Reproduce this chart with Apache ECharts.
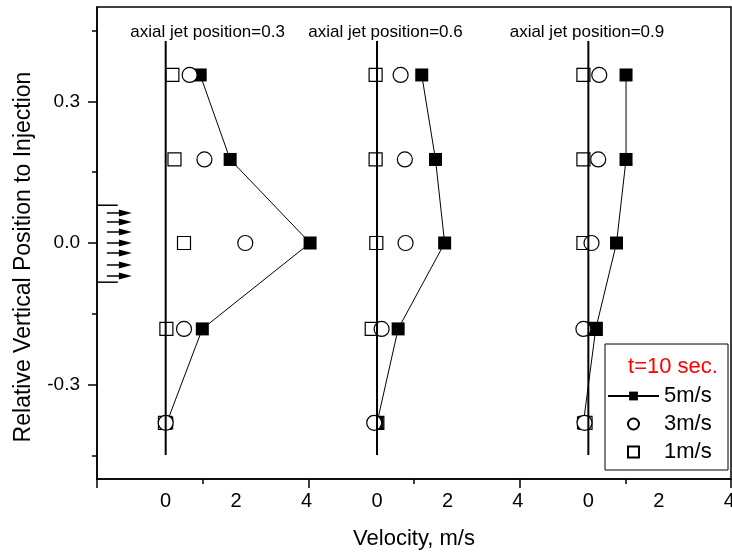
<!DOCTYPE html>
<html><head><meta charset="utf-8">
<script src="https://cdn.jsdelivr.net/npm/echarts@6/dist/echarts.min.js"></script>
<style>html,body{margin:0;padding:0;background:#fff}#c{width:732px;height:555px}</style>
</head><body><div id="c"></div>
<script>
// ---- data ----
const rowY = [0.356, 0.177, 0, -0.182, -0.381];          // relative vertical position of measurements
const panelNames = ['axial jet position=0.3', 'axial jet position=0.6', 'axial jet position=0.9'];
const panelBase = [1.95, 7.95, 13.95];                    // x offset of each panel's zero velocity
const titleOffset = [1.19, 0.24, -0.04];
const titleY = 0.446;
const v5 = [[0.98, 1.83, 4.10, 1.04, 0.03], [1.27, 1.66, 1.92, 0.60, 0.00], [1.07, 1.07, 0.80, 0.21, -0.14]];
const v3 = [[0.68, 1.10, 2.26, 0.52, 0.00], [0.67, 0.79, 0.81, 0.13, -0.08], [0.31, 0.28, 0.09, -0.14, -0.11]];
const v1 = [[0.19, 0.25, 0.52, 0.02, -0.02], [-0.04, -0.04, -0.02, -0.15, 0.01], [-0.14, -0.14, -0.14, 0.21, -0.08]];
const xTickLabels = [0, 2, 4];
const yTickLabels = [-0.3, 0, 0.3];
const yMinorTicks = [-0.45, -0.15, 0.15, 0.45];
const zeroLineY = [0.428, -0.449];
const arrowY = [0.0636, 0.0445, 0.0233, 0, -0.0212, -0.0466, -0.0699];
const arrowX = [0.28, 0.99];
const bracketY = [0.08, -0.083];
const bracketX = [0, 0.59];

const FONT = "'Liberation Sans', Arial, Helvetica, sans-serif";
const pts = (vals, p) => vals[p].map((v, i) => [panelBase[p] + v, rowY[i]]);
const labelVals = [], labelMap = {};
panelBase.forEach(b => xTickLabels.forEach(t => { const v = b + t; labelVals.push(v); labelMap[v.toFixed(3)] = String(t); }));

const series = [];
// 1 m/s open squares
series.push({ type: 'scatter', name: '1m/s', symbol: 'rect', symbolSize: 13, z: 2,
  itemStyle: { color: '#fff', borderColor: '#000', borderWidth: 1.2, opacity: 1 },
  data: [0, 1, 2].flatMap(p => pts(v1, p)) });
// 5 m/s filled squares with lines
[0, 1, 2].forEach(p => series.push({ type: 'line', name: '5m/s', symbol: 'rect', symbolSize: 13, z: 3,
  itemStyle: { color: '#000' }, lineStyle: { color: '#000', width: 1 }, data: pts(v5, p) }));
// 3 m/s open circles
series.push({ type: 'scatter', name: '3m/s', symbol: 'circle', symbolSize: 15, z: 4,
  itemStyle: { color: '#fff', borderColor: '#000', borderWidth: 1.2, opacity: 1 },
  data: [0, 1, 2].flatMap(p => pts(v3, p)) });
// zero velocity reference lines
panelBase.forEach(b => series.push({ type: 'line', symbol: 'none', z: 5, silent: true,
  lineStyle: { color: '#000', width: 2 }, data: [[b, zeroLineY[0]], [b, zeroLineY[1]]] }));
// panel titles
series.push({ type: 'custom', silent: true, z: 6,
  data: panelBase.map((b, i) => [b + titleOffset[i], titleY]),
  renderItem: (params, api) => {
    const p = api.coord([api.value(0), api.value(1)]);
    return { type: 'text', x: p[0], y: p[1], style: { text: panelNames[params.dataIndex], fontSize: 17,
      fontFamily: FONT, fill: '#000', align: 'center', verticalAlign: 'middle' } };
  } });
// injection arrows
series.push({ type: 'custom', silent: true, z: 6, encode: { x: [0, 2], y: 1 },
  data: arrowY.map(y => [arrowX[0], y, arrowX[1]]),
  renderItem: (params, api) => {
    const p1 = api.coord([api.value(0), api.value(1)]);
    const p2 = api.coord([api.value(2), api.value(1)]);
    const head = 13, hw = 3.5;
    return { type: 'group', children: [
      { type: 'line', shape: { x1: p1[0], y1: p1[1], x2: p2[0] - head + 1, y2: p2[1] }, style: { stroke: '#000', lineWidth: 1.5 } },
      { type: 'polygon', shape: { points: [[p2[0], p2[1]], [p2[0] - head, p2[1] - hw], [p2[0] - head, p2[1] + hw]] }, style: { fill: '#000' } }
    ] };
  } });
series.push({ type: 'custom', silent: true, z: 6, encode: { x: [0, 2], y: 1 },
  data: bracketY.map(y => [bracketX[0], y, bracketX[1]]),
  renderItem: (params, api) => {
    const p1 = api.coord([api.value(0), api.value(1)]);
    const p2 = api.coord([api.value(2), api.value(1)]);
    return { type: 'line', shape: { x1: p1[0], y1: p1[1], x2: p2[0], y2: p2[1] }, style: { stroke: '#000', lineWidth: 1.5 } };
  } });

const chart = echarts.init(document.getElementById('c'), null, { renderer: 'canvas' });
chart.setOption({
  animation: false,
  backgroundColor: '#fff',
  textStyle: { fontFamily: FONT, color: '#000' },
  grid: { left: 97, right: 1, top: 7, bottom: 76, show: true, borderColor: '#000', borderWidth: 1.5,
    containLabel: false, outerBoundsMode: 'none' },
  xAxis: [
    { type: 'value', min: 0, max: 18, interval: 6, position: 'bottom',
      name: 'Velocity, m/s', nameLocation: 'middle', nameGap: 49,
      nameTextStyle: { fontSize: 22, color: '#000', fontFamily: FONT },
      axisLine: { show: true, onZero: false, lineStyle: { color: '#000', width: 1.5 } },
      axisTick: { show: true, length: 9, lineStyle: { color: '#000', width: 1.5 } },
      minorTick: { show: true, splitNumber: 2, length: 5, lineStyle: { color: '#000', width: 1.5 } },
      axisLabel: { show: false }, splitLine: { show: false }, minorSplitLine: { show: false } },
    { type: 'value', min: 0, max: 18, position: 'bottom',
      axisLine: { show: false, onZero: false }, axisTick: { show: false }, splitLine: { show: false },
      axisLabel: { show: true, customValues: labelVals, margin: 12, fontSize: 20, color: '#000', fontFamily: FONT,
        formatter: v => labelMap[Number(v).toFixed(3)] ?? '' } }
  ],
  yAxis: [
    { type: 'value', min: -0.5, max: 0.5, position: 'left',
      axisLine: { show: true, onZero: false, lineStyle: { color: '#000', width: 1.5 } },
      axisTick: { show: true, customValues: yTickLabels, length: 9, lineStyle: { color: '#000', width: 1.5 } },
      axisLabel: { show: true, customValues: yTickLabels, margin: 17, fontSize: 19, color: '#000', fontFamily: FONT,
        formatter: v => Number(v).toFixed(1) },
      splitLine: { show: false } },
    { type: 'value', min: -0.5, max: 0.5, position: 'left',
      axisLine: { show: false, onZero: false },
      axisTick: { show: true, customValues: yMinorTicks, length: 5, lineStyle: { color: '#000', width: 1.5 } },
      axisLabel: { show: false }, splitLine: { show: false } }
  ],
  legend: {
    data: [{ name: '5m/s' }, { name: '3m/s' }, { name: '1m/s', icon: 'path://M0,0H10V10H0Z' }],
    orient: 'vertical', left: 607, top: 385, itemWidth: 51, itemHeight: 11, itemGap: 6, padding: 0,
    selectedMode: false, textStyle: { fontSize: 22, color: '#000', fontFamily: FONT }
  },
  graphic: [
    { type: 'rect', z: 1, shape: { x: 605, y: 344, width: 123, height: 126 }, style: { fill: '#fff', stroke: '#000', lineWidth: 1 } },
    { type: 'text', z: 10, x: 673, y: 367, style: { text: 't=10 sec.', fontSize: 22, fontFamily: FONT, fill: '#ff0000', align: 'center', verticalAlign: 'middle' } },
    { type: 'text', z: 10, x: 24, y: 257, rotation: Math.PI / 2, style: { text: 'Relative Vertical Position to Injection', fontSize: 23, fontFamily: FONT, fill: '#000', align: 'center', verticalAlign: 'middle' } }
  ],
  series: series
});
</script>
</body></html>
